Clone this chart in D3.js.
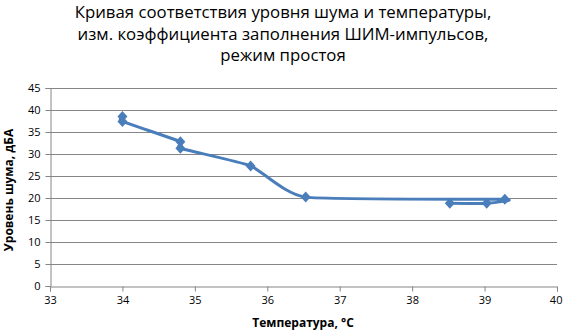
<!DOCTYPE html>
<html>
<head>
<meta charset="utf-8">
<script src="https://cdn.jsdelivr.net/npm/d3@7"></script>
<style>
body { margin: 0; background: #fff; }
text { font-family: "Open Sans", "Liberation Sans", sans-serif; }
</style>
</head>
<body>
<div id="chart"></div>
<script>
// data, in drawing order
var temps = [34.0, 34.0, 34.8, 34.8, 35.77, 36.53, 39.28, 39.03, 38.52];
var noise = [38.5, 37.4, 32.8, 31.3, 27.3, 20.2, 19.7, 18.8, 18.8];
var xTicks = [33, 34, 35, 36, 37, 38, 39, 40];
var yTicks = [0, 5, 10, 15, 20, 25, 30, 35, 40, 45];
var titleLines = ["Кривая соответствия уровня шума и температуры,",
                  "изм. коэффициента  заполнения ШИМ-импульсов,",
                  "режим простоя"];

var W = 565, H = 332;
var m = {left: 50, right: 8, top: 88, bottom: 46};

var svg = d3.select("#chart").append("svg")
	.attr("width", W)
	.attr("height", H);

var x = d3.scaleLinear().domain([33, 40]).range([m.left, W - m.right]);
var y = d3.scaleLinear().domain([0, 45]).range([H - m.bottom, m.top]);

// gridlines
svg.selectAll("line.grid")
	.data(yTicks.slice(1))
	.enter().append("line")
	.attr("x1", m.left).attr("x2", W - m.right)
	.attr("y1", function(d) { return y(d) + 0.5; })
	.attr("y2", function(d) { return y(d) + 0.5; })
	.attr("stroke", "#868686");

var gx = svg.append("g")
	.attr("transform", "translate(0," + (y(0) + 0.5) + ")")
	.call(d3.axisBottom(x).tickValues(xTicks).tickFormat(d3.format("d")).tickSize(5).tickPadding(5));
var gy = svg.append("g")
	.attr("transform", "translate(" + (m.left + 0.5) + ",0)")
	.call(d3.axisLeft(y).tickValues(yTicks).tickFormat(d3.format("d")).tickSize(5).tickPadding(5));

[gx, gy].forEach(function(g) {
	g.select(".domain").attr("stroke", "#868686");
	g.selectAll(".tick line").attr("stroke", "#868686");
	g.selectAll(".tick text")
		.attr("fill", "#000")
		.style("font-size", "11px")
		.style("font-family", "'Open Sans', sans-serif");
});
gx.selectAll(".tick").filter(function(d) { return d === 40; })
	.select("text").attr("text-anchor", "end").attr("dx", "0.45em");

var pts = temps.map(function(t, i) { return [t, noise[i]]; });

var line = d3.line()
	.x(function(d) { return x(d[0]); })
	.y(function(d) { return y(d[1]); })
	.curve(d3.curveCardinal.tension(0.5));

svg.append("path")
	.datum(pts)
	.attr("d", line)
	.attr("fill", "none")
	.attr("stroke", "#4a7ebb")
	.attr("stroke-width", 3);

// square-ish diamonds like the original markers
svg.selectAll("path.mark")
	.data(pts)
	.enter().append("path")
	.attr("d", "M0,-5.5L5,0L0,5.5L-5,0Z")
	.attr("transform", function(d) { return "translate(" + x(d[0]) + "," + y(d[1]) + ")"; })
	.attr("fill", "#4a7ebb");

// title
svg.selectAll("text.title")
	.data(titleLines)
	.enter().append("text")
	.attr("x", 283)
	.attr("y", function(d, i) { return 18 + 21.5 * i; })
	.attr("text-anchor", "middle")
	.style("font-size", "16.8px")
	.text(function(d) { return d; });

svg.append("text")
	.attr("x", 303).attr("y", 327)
	.attr("text-anchor", "middle")
	.style("font-size", "12px").style("font-weight", "bold")
	.text("Температура, °С");

svg.append("text")
	.attr("transform", "translate(13," + 190 + ") rotate(-90)")
	.attr("text-anchor", "middle")
	.style("font-size", "12px").style("font-weight", "bold")
	.text("Уровень шума, дБА");
</script>
</body>
</html>
